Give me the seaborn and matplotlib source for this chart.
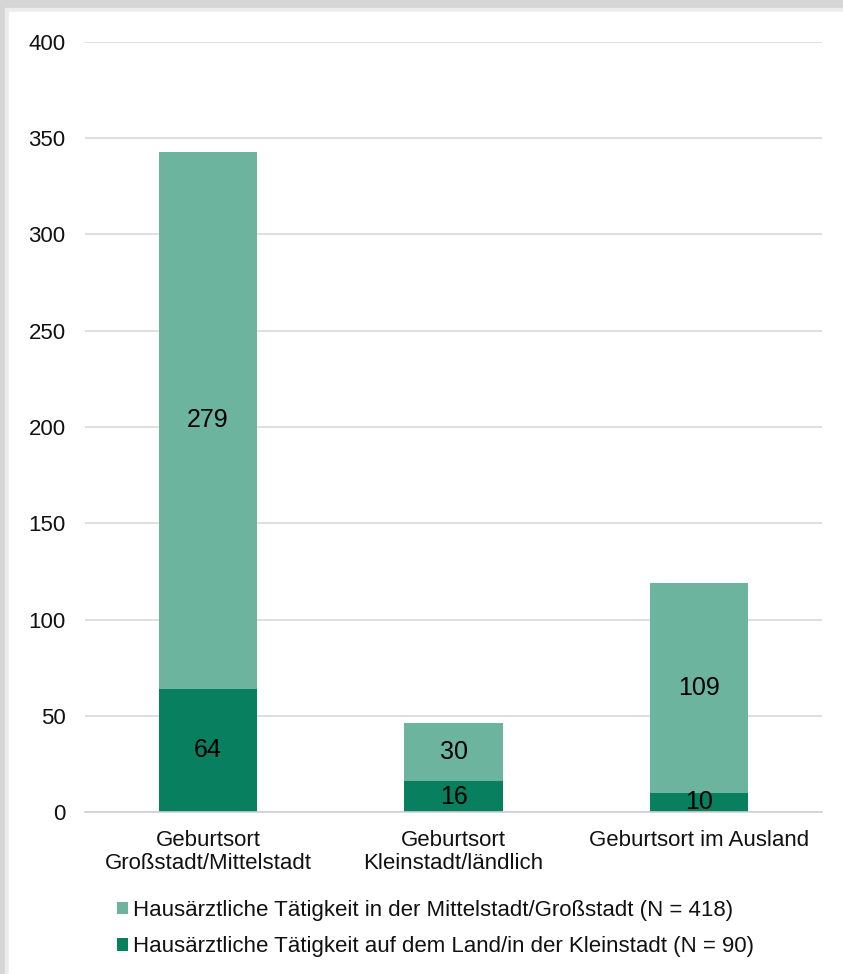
import matplotlib
matplotlib.use("Agg")
import matplotlib.pyplot as plt
import seaborn as sns
import numpy as np
from matplotlib.patches import Rectangle

categories = ["Geburtsort\nGroßstadt/Mittelstadt", "Geburtsort\nKleinstadt/ländlich", "Geburtsort im Ausland"]
land = [64, 16, 10]
stadt = [279, 30, 109]
label_stadt = "Hausärztliche Tätigkeit in der Mittelstadt/Großstadt (N = 418)"
label_land = "Hausärztliche Tätigkeit auf dem Land/in der Kleinstadt (N = 90)"

col_light = "#6DB49F"
col_dark = "#087F5F"

sns.set_style("white")
plt.rcParams['font.family'] = ['Liberation Sans', 'DejaVu Sans']
plt.rcParams['text.color'] = "#111111"

fig = plt.figure(figsize=(8.43, 9.74), dpi=100)
# shadow frame
fig.patches.append(Rectangle((0, 0), 1, 1, transform=fig.transFigure, color="#d6d6d6", zorder=-3))
fig.patches.append(Rectangle((0.006, 0.0), 0.994, 0.992, transform=fig.transFigure, color="#ececec", zorder=-2))
fig.patches.append(Rectangle((0.011, 0.0), 0.989, 0.988, transform=fig.transFigure, color="white", zorder=-1))
fig.patch.set_alpha(0)

ax = fig.add_axes([0.101, 0.1663, 0.874, 0.7906])
ax.patch.set_alpha(0)

sns.barplot(x=categories, y=land, color=col_dark, width=0.4, saturation=1, linewidth=0,
            ax=ax, label=label_land, zorder=2)
sns.barplot(x=categories, y=stadt, bottom=land, color=col_light, width=0.4, saturation=1, linewidth=0,
            ax=ax, label=label_stadt, zorder=2)

for cont, vals in zip(ax.containers, [land, stadt]):
    ax.bar_label(cont, labels=[str(v) for v in vals], label_type="center", fontsize=18, color="black")

ax.set_ylim(0, 400)
ax.set_xlim(-0.5, 2.5)
ax.set_yticks(np.arange(0, 401, 50))
ax.yaxis.grid(True, color="#d9d9d9", linewidth=1.2, zorder=0)
ax.set_axisbelow(True)
for s in ["top", "right", "left"]:
    ax.spines[s].set_visible(False)
ax.spines["bottom"].set_color("#d0d0d0")
ax.spines["bottom"].set_linewidth(1.2)
ax.tick_params(axis="y", length=0, pad=14, labelsize=16, labelcolor="#111111")
ax.tick_params(axis="x", length=0, pad=13, labelsize=16, labelcolor="#111111")
for t in ax.get_xticklabels():
    t.set_verticalalignment("top")
    t.set_linespacing(1.15)
ax.set_xlabel("")
ax.set_ylabel("")

handles, labels = ax.get_legend_handles_labels()
order = [labels.index(label_stadt), labels.index(label_land)]
ax.legend([handles[i] for i in order], [labels[i] for i in order],
          loc="upper left", bbox_to_anchor=(0.126, 0.0875), bbox_transform=fig.transFigure,
          frameon=False, fontsize=16, handlelength=0.5, handleheight=0.5,
          handletextpad=0.2, labelspacing=0.7, borderpad=0, labelcolor="#111111")

fig.savefig("out.png", dpi=100)
